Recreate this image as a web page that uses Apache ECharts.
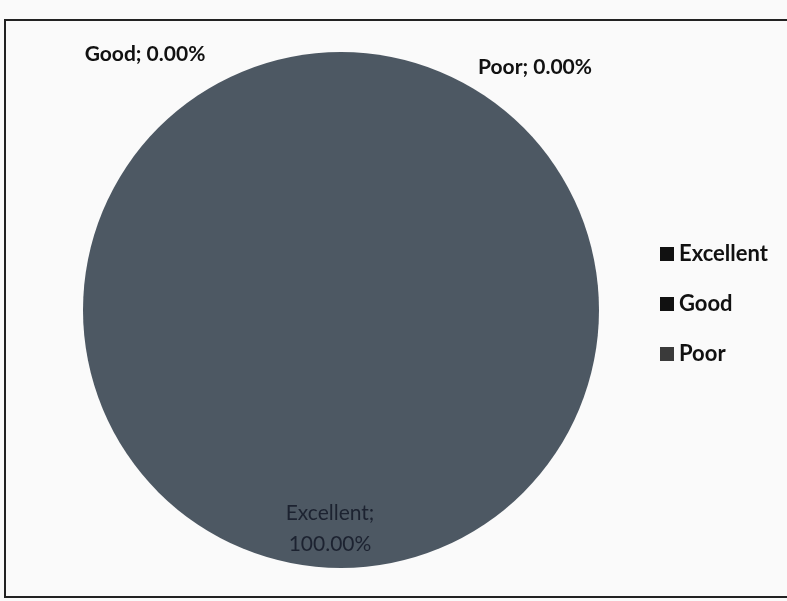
<!DOCTYPE html>
<html><head><meta charset="utf-8">
<script src="https://cdn.jsdelivr.net/npm/echarts@6/dist/echarts.min.js"></script>
<style>html,body{margin:0;padding:0;background:#fafafa}#c{width:787px;height:601px}</style>
</head><body><div id="c"></div>
<script>
const categories = ['Excellent', 'Good', 'Poor'];
const values = [100, 0, 0];
const percentLabels = ['100.00%', '0.00%', '0.00%'];
const sliceColors = ['#4d5863', '#3c3f44', '#555555'];
const legendColors = ['#111111', '#111111', '#3a3a3a'];

const labelCfg = [
  {position: 'inside', offset: [-11, 87], formatter: p => p.name + ';\n' + percentLabels[p.dataIndex], color: '#1c2230', fontWeight: 'normal'},
  {position: 'inside', offset: [-196, -124], formatter: p => p.name + '; ' + percentLabels[p.dataIndex], color: '#111', fontWeight: 'bold'},
  {position: 'inside', offset: [194, -111], formatter: p => p.name + '; ' + percentLabels[p.dataIndex], color: '#111', fontWeight: 'bold'}
];

const chart = echarts.init(document.getElementById('c'));
chart.setOption({
  backgroundColor: '#fafafa',
  animation: false,
  graphic: [{
    type: 'rect', shape: {x: 5, y: 20, width: 790, height: 577},
    style: {fill: 'none', stroke: '#222', lineWidth: 2}, z: -1
  }],
  legend: {
    orient: 'vertical', left: 655, top: 238, itemGap: 28,
    itemWidth: 14, itemHeight: 14, icon: 'rect',
    textStyle: {fontFamily: 'Lato', fontSize: 22, color: '#111', fontWeight: 'bold'},
    data: categories.map((c, i) => ({name: c, itemStyle: {color: legendColors[i]}}))
  },
  series: [{
    type: 'pie', center: [341, 310], radius: 258, startAngle: 90, clockwise: true,
    avoidLabelOverlap: false, silent: true,
    labelLine: {show: false},
    data: categories.map((c, i) => ({
      name: c, value: values[i],
      itemStyle: {color: sliceColors[i]},
      label: Object.assign({show: true, fontFamily: 'Lato', fontSize: 21, lineHeight: 31}, labelCfg[i])
    }))
  }]
});
</script></body></html>
